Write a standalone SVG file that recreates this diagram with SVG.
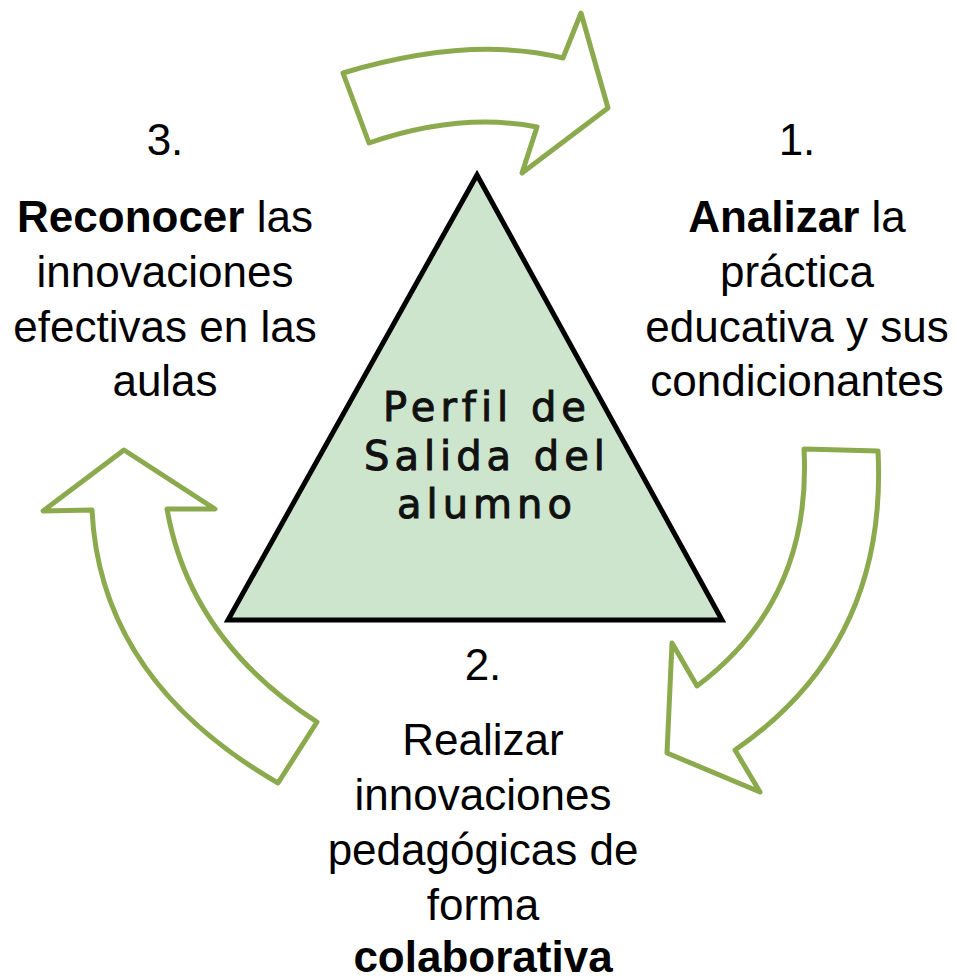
<svg xmlns="http://www.w3.org/2000/svg" width="959" height="979" viewBox="0 0 959 979">
<style>
.arrow{fill:#ffffff;stroke:#8BAA4E;stroke-width:5;stroke-linejoin:round}
.tri{fill:#CDE5CD;stroke:#000;stroke-width:5;stroke-linejoin:miter}
.lbl{font-family:"Liberation Sans",Arial,sans-serif;font-size:44px;fill:#000;text-anchor:middle}
.b{font-weight:bold}
.hand{font-family:"DejaVu Sans",sans-serif;font-size:40px;letter-spacing:5px;fill:#111;stroke:#111;stroke-width:1;text-anchor:middle}
</style>
<rect width="959" height="979" fill="#ffffff"/>
<g id="connectors">
<path class="arrow" d="M343,73 Q470,35 563,58 L581,13 L608,108 L522,173 L537,127 Q460,112 369,143 Z"/>
<path class="arrow" d="M804,449 L878,451 Q888,645 735,750 L760,792 L667,753 L672,643 L697,686 Q812,600 804,449 Z"/>
<path class="arrow" d="M278,783 Q100,680 92,510 L43,511 L124,450 L215,509 L167,509 Q190,640 317,722 Z"/>
</g>
<g id="center">
<polygon class="tri" points="477,175 228,620 722,620"/>
<text class="hand" x="487" y="421">Perfil de</text>
<text class="hand" x="487" y="470">Salida del</text>
<text class="hand" x="487" y="518">alumno</text>
</g>
<g id="step1">
<text class="lbl" x="797" y="155">1.</text>
<text class="lbl" x="797" y="232"><tspan class="b">Analizar</tspan> la</text>
<text class="lbl" x="797" y="287">práctica</text>
<text class="lbl" x="797" y="342">educativa y sus</text>
<text class="lbl" x="797" y="396">condicionantes</text>
</g>
<g id="step2">
<text class="lbl" x="483" y="680">2.</text>
<text class="lbl" x="483" y="755">Realizar</text>
<text class="lbl" x="483" y="810">innovaciones</text>
<text class="lbl" x="483" y="865">pedagógicas de</text>
<text class="lbl" x="483" y="920">forma</text>
<text class="lbl b" x="483" y="972">colaborativa</text>
</g>
<g id="step3">
<text class="lbl" x="165" y="155">3.</text>
<text class="lbl" x="165" y="232"><tspan class="b">Reconocer</tspan> las</text>
<text class="lbl" x="165" y="287">innovaciones</text>
<text class="lbl" x="165" y="342">efectivas en las</text>
<text class="lbl" x="165" y="396">aulas</text>
</g>
</svg>
